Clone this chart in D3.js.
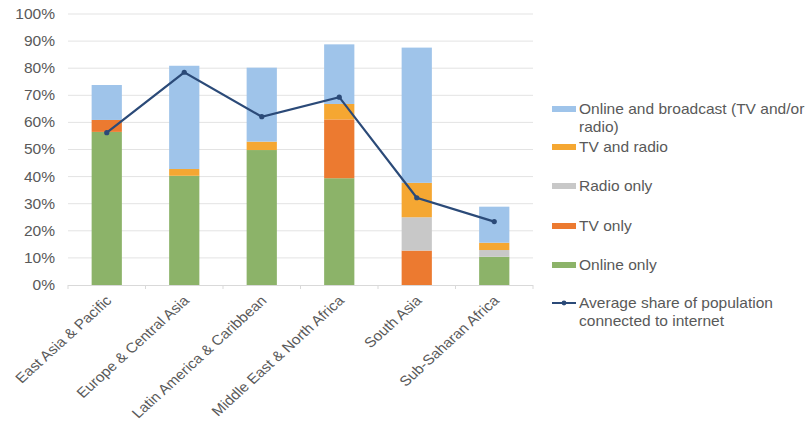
<!DOCTYPE html>
<html>
<head>
<meta charset="utf-8">
<script src="https://cdn.jsdelivr.net/npm/d3@7"></script>
<style>
  html, body { margin: 0; padding: 0; background: #fff; }
  svg { display: block; }
  text { font-family: "Liberation Sans", Arial, sans-serif; fill: #595959; }
</style>
</head>
<body>
<svg id="chart" width="809" height="429"></svg>
<script>
// ---- Data ----
const categories = ["East Asia & Pacific", "Europe & Central Asia", "Latin America & Caribbean",
                    "Middle East & North Africa", "South Asia", "Sub-Saharan Africa"];
const onlineOnly          = [56.5, 40.3, 49.8, 39.4, 0.0, 10.4];
const tvOnly              = [4.4, 0.0, 0.0, 21.7, 12.7, 0.0];
const radioOnly           = [0.0, 0.0, 0.0, 0.0, 12.3, 2.5];
const tvAndRadio          = [0.0, 2.5, 3.1, 5.7, 12.7, 2.7];
const onlineAndBroadcast  = [12.9, 38.1, 27.3, 22.0, 49.9, 13.3];
const avgInternetShare    = [56.2, 78.5, 62.1, 69.3, 32.2, 23.4];
const yTicks = [0, 10, 20, 30, 40, 50, 60, 70, 80, 90, 100];

const seriesNames = ["Online only", "TV only", "Radio only", "TV and radio", "Online and broadcast (TV and/or radio)"];
const seriesValues = [onlineOnly, tvOnly, radioOnly, tvAndRadio, onlineAndBroadcast];
const seriesColors = ["#8cb369", "#ec7a30", "#c8c8c8", "#f5a732", "#9fc4ea"];
const lineName = "Average share of population connected to internet";
const lineColor = "#2b4a78";

// ---- Layout ----
const svg = d3.select("#chart");
const plot = { left: 68, right: 533, top: 14, bottom: 285 };
const stretch = 1.11; // the reference is horizontally stretched

const x = d3.scaleBand().domain(categories).range([plot.left, plot.right]).paddingInner(0.61).paddingOuter(0.305);
const y = d3.scaleLinear().domain([0, 100]).range([plot.bottom, plot.top]);

// gridlines
svg.append("g").selectAll("line").data(yTicks.filter(d => d > 0)).join("line")
  .attr("x1", plot.left).attr("x2", plot.right)
  .attr("y1", d => y(d)).attr("y2", d => y(d))
  .attr("stroke", "#e3e3e3").attr("stroke-width", 1);

// y axis labels
svg.append("g").selectAll("text").data(yTicks).join("text")
  .attr("transform", d => `translate(${plot.left - 13},${y(d)}) scale(${stretch},1)`)
  .attr("text-anchor", "end").attr("dy", "0.35em").attr("font-size", 14)
  .text(d => d + "%");

// stacked bars
const table = categories.map((c, i) => {
  const o = { cat: c };
  seriesNames.forEach((s, k) => o[s] = seriesValues[k][i]);
  return o;
});
const stack = d3.stack().keys(seriesNames)(table);
svg.append("g").selectAll("g").data(stack).join("g")
  .attr("fill", (d, i) => seriesColors[i])
  .selectAll("rect").data(d => d).join("rect")
  .attr("x", d => x(d.data.cat))
  .attr("width", x.bandwidth())
  .attr("y", d => y(d[1]))
  .attr("height", d => Math.max(0, y(d[0]) - y(d[1])));

// x axis baseline
svg.append("line").attr("x1", plot.left).attr("x2", plot.right)
  .attr("y1", plot.bottom + 0.5).attr("y2", plot.bottom + 0.5)
  .attr("stroke", "#d9d9d9").attr("stroke-width", 1);
const step = x.step();
svg.append("g").selectAll("line").data(d3.range(categories.length + 1)).join("line")
  .attr("x1", i => plot.left + i * step).attr("x2", i => plot.left + i * step)
  .attr("y1", plot.bottom).attr("y2", plot.bottom + 4)
  .attr("stroke", "#d9d9d9");

// x labels
svg.append("g").selectAll("text").data(categories).join("text")
  .attr("transform", d => `translate(${x(d) + x.bandwidth() / 2 + 2},${plot.bottom + 13}) scale(1.1,1) rotate(-45)`)
  .attr("text-anchor", "end").attr("dy", "0.35em")
  .attr("font-size", 14)
  .text(d => d);

// line
const cx = d => x(d) + x.bandwidth() / 2;
const lineGen = d3.line().x((d, i) => cx(categories[i])).y(d => y(d));
svg.append("path").datum(avgInternetShare)
  .attr("d", lineGen).attr("fill", "none")
  .attr("stroke", lineColor).attr("stroke-width", 2.2);
svg.append("g").selectAll("circle").data(avgInternetShare).join("circle")
  .attr("cx", (d, i) => cx(categories[i])).attr("cy", d => y(d)).attr("r", 2.6)
  .attr("fill", lineColor);

// legend
const legX = 552, swW = 24, txX = 579;
const legendItems = [
  { name: ["Online and broadcast (TV and/or", "radio)"], color: seriesColors[4], y: 109, type: "bar" },
  { name: ["TV and radio"], color: seriesColors[3], y: 147, type: "bar" },
  { name: ["Radio only"], color: seriesColors[2], y: 186, type: "bar" },
  { name: ["TV only"], color: seriesColors[1], y: 226, type: "bar" },
  { name: ["Online only"], color: seriesColors[0], y: 265, type: "bar" },
  { name: ["Average share of population", "connected to internet"], color: lineColor, y: 303, type: "line" }
];
const lg = svg.append("g");
legendItems.forEach(it => {
  if (it.type === "bar") {
    lg.append("rect").attr("x", legX).attr("y", it.y - 3).attr("width", swW).attr("height", 6).attr("fill", it.color);
  } else {
    lg.append("line").attr("x1", legX).attr("x2", legX + swW).attr("y1", it.y).attr("y2", it.y)
      .attr("stroke", it.color).attr("stroke-width", 2);
    lg.append("circle").attr("cx", legX + swW / 2).attr("cy", it.y).attr("r", 2.4).attr("fill", it.color);
  }
  const t = lg.append("text")
    .attr("transform", `translate(${txX},${it.y}) scale(${stretch},1)`)
    .attr("font-size", 14);
  it.name.forEach((ln, j) => {
    t.append("tspan").attr("x", 0).attr("dy", j === 0 ? "0.35em" : 18).text(ln);
  });
});
</script>
</body>
</html>
